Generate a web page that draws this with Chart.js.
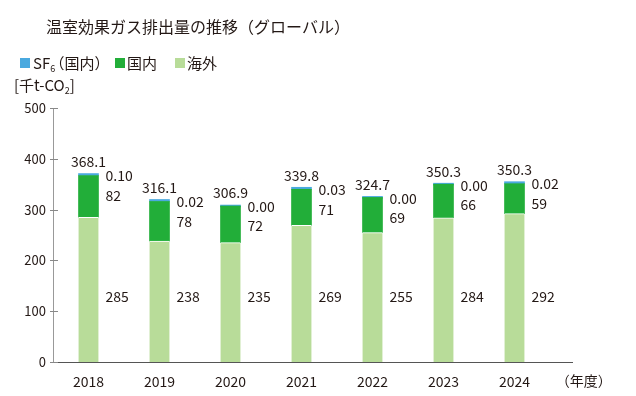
<!DOCTYPE html>
<html><head><meta charset="utf-8">
<script src="https://cdn.jsdelivr.net/npm/chart.js@4/dist/chart.umd.min.js"></script>
<style>html,body{margin:0;padding:0;background:#fff;}#wrap{position:relative;width:636px;height:396px;}</style>
</head><body><div id="wrap"><canvas id="c" width="636" height="396"></canvas></div>
<script>
const years = ['2018','2019','2020','2021','2022','2023','2024'];
const overseas = [285, 238, 235, 269, 255, 284, 292];
const domestic = [82, 78, 72, 71, 69, 66, 59];
const sf6 = [0.10, 0.02, 0.00, 0.03, 0.00, 0.00, 0.02];
const totals = [368.1, 316.1, 306.9, 339.8, 324.7, 350.3, 350.3];
const yTicks = [0, 100, 200, 300, 400, 500];

const FONT = '"Noto Sans CJK JP", "Noto Sans", sans-serif';
const TXT = '#231815';
const C_SF6 = '#4aa9df';
const C_DOM = '#22ae39';
const C_OVS = '#b8dc99';

// draw text with proportional (half-width) full-width parentheses
function drawPalt(ctx, text, x, y, size) {
  for (const ch of text) {
    if (ch === '（') { ctx.fillText(ch, x - size * 0.45, y); x += size * 0.55; }
    else if (ch === '）') { ctx.fillText(ch, x, y); x += size * 0.55; }
    else { ctx.fillText(ch, x, y); x += ctx.measureText(ch).width; }
  }
  return x;
}

const decor = {
  id: 'decor',
  afterDraw(chart) {
    const ctx = chart.ctx, ca = chart.chartArea;
    const y = chart.scales.y;
    ctx.save();
    ctx.fillStyle = TXT;
    ctx.textBaseline = 'alphabetic';
    ctx.textAlign = 'left';
    // title
    ctx.font = '16px ' + FONT;
    ctx.fillText('温室効果ガス排出量の推移（グローバル）', 46, 33);
    // legend
    ctx.font = '15px ' + FONT;
    ctx.fillStyle = C_SF6; ctx.fillRect(20, 58, 10, 10);
    ctx.fillStyle = TXT;
    let x = 33;
    ctx.fillText('SF', x, 69); x += ctx.measureText('SF').width;
    ctx.font = '9px ' + FONT; ctx.fillText('6', x, 72); x += ctx.measureText('6').width + 1;
    ctx.font = '15px ' + FONT; drawPalt(ctx, '（国内）', x, 69, 15);
    ctx.fillStyle = C_DOM; ctx.fillRect(115, 58, 10, 10);
    ctx.fillStyle = TXT; ctx.fillText('国内', 127, 69);
    ctx.fillStyle = C_OVS; ctx.fillRect(175, 58, 10, 10);
    ctx.fillStyle = TXT; ctx.fillText('海外', 187, 69);
    // unit
    x = 14;
    ctx.fillText('[千t-CO', x, 91); x += ctx.measureText('[千t-CO').width;
    ctx.font = '9px ' + FONT; ctx.fillText('2', x, 94); x += ctx.measureText('2').width;
    ctx.font = '15px ' + FONT; ctx.fillText(']', x, 91);
    // year unit
    ctx.font = '14px ' + FONT;
    drawPalt(ctx, '（年度）', 562, 386, 14);
    // baseline
    ctx.strokeStyle = '#555'; ctx.lineWidth = 1;
    const by = Math.round(y.getPixelForValue(0)) + 0.5;
    ctx.beginPath(); ctx.moveTo(ca.left, by); ctx.lineTo(573, by); ctx.stroke();
    // y tick marks
    ctx.strokeStyle = '#888';
    yTicks.forEach(v => {
      const py = Math.round(y.getPixelForValue(v)) + 0.5;
      ctx.beginPath(); ctx.moveTo(ca.left - 3, py); ctx.lineTo(ca.left + 5, py); ctx.stroke();
    });
    // value labels
    const mD = chart.getDatasetMeta(1).data, mS = chart.getDatasetMeta(2).data;
    ctx.font = '14px ' + FONT;
    ctx.textBaseline = 'middle';
    years.forEach((yr, i) => {
      const s = mS[i], d = mD[i];
      const right = s.x + s.width / 2 + 7;
      ctx.textAlign = 'center';
      ctx.fillText(totals[i].toFixed(1), s.x, s.y - 12);
      ctx.textAlign = 'left';
      ctx.fillText(sf6[i].toFixed(2), right, s.y + 2);
      ctx.fillText(String(domestic[i]), right, d.y + 20);
      ctx.fillText(String(overseas[i]), right, y.getPixelForValue(128));
    });
    ctx.restore();
  }
};

new Chart(document.getElementById('c'), {
  type: 'bar',
  data: {
    labels: years,
    datasets: [
      { label: '海外', data: overseas, backgroundColor: C_OVS, borderColor: '#ffffff',
        borderWidth: { top: 1, left: 0, right: 0, bottom: 0 }, borderSkipped: 'start' },
      { label: '国内', data: domestic, backgroundColor: C_DOM, borderWidth: 0 },
      { label: 'SF6（国内）', data: sf6, backgroundColor: C_SF6, borderWidth: 0, minBarLength: 2 }
    ]
  },
  options: {
    responsive: false,
    animation: false,
    devicePixelRatio: 1,
    layout: { padding: { left: 0, right: 86, top: 108, bottom: 0 } },
    datasets: { bar: { barThickness: 20 } },
    plugins: { legend: { display: false }, tooltip: { enabled: false }, title: { display: false } },
    scales: {
      x: {
        stacked: true,
        grid: { display: false, drawTicks: false, tickLength: 0 },
        border: { display: false },
        ticks: { color: TXT, font: { family: FONT, size: 14 }, padding: 11, maxRotation: 0 },
        afterFit(s) { s.height = 34; }
      },
      y: {
        stacked: true,
        min: 0, max: 500,
        afterBuildTicks(s) { s.ticks = yTicks.map(v => ({ value: v })); },
        grid: { display: false, drawTicks: false, tickLength: 0 },
        border: { display: true, color: '#999', width: 1 },
        ticks: { color: TXT, font: { family: FONT, size: 13 }, padding: 7 },
        afterFit(s) { s.width = 53; }
      }
    }
  },
  plugins: [decor]
});
</script></body></html>
